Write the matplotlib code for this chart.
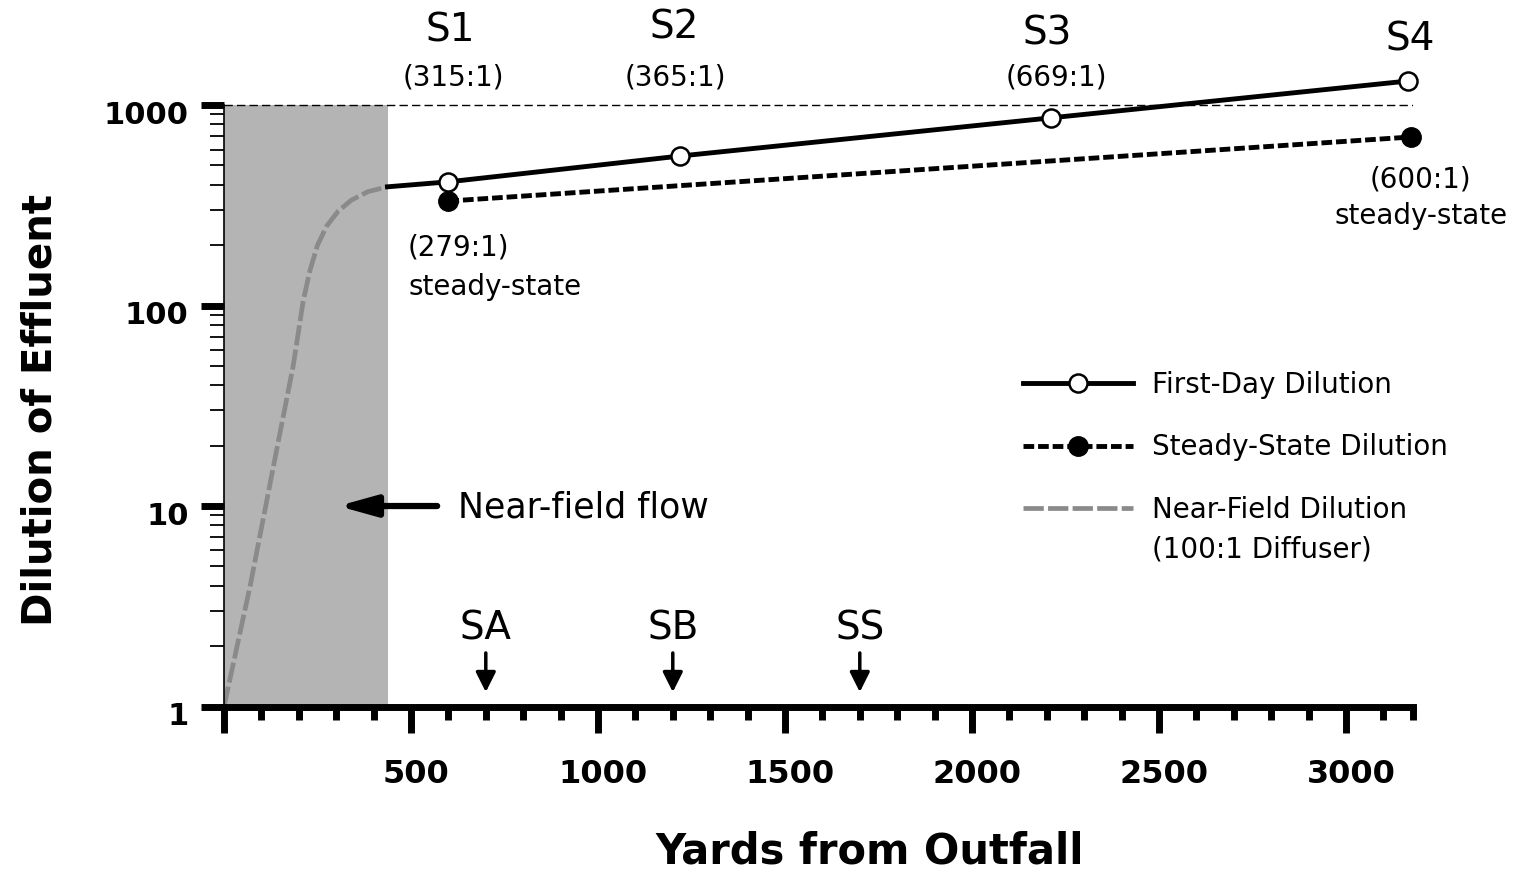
import matplotlib
matplotlib.use("Agg")

import matplotlib.pyplot as plt
import matplotlib.transforms as mtransforms
from matplotlib.ticker import FixedLocator, NullFormatter

plt.rcParams["font.family"] = ["DejaVu Sans"]

# near-field dilution curve (100:1 diffuser)
nf_x = [0, 70, 132, 185, 212, 230, 250, 275, 305, 340, 385, 437]
nf_y = [1, 4.0, 15.7, 50, 106, 150, 200, 250, 295, 335, 370, 391]
near_field_end = 438

# first-day dilution: joins the near-field curve, then stations S1..S4
fd_x = [437, 600, 1220, 2210, 3166]
fd_y = [391, 414, 557, 863, 1318]

# steady-state dilution at S1 and S4
ss_x = [600, 3174]
ss_y = [332, 693]

stations = ["S1", "S2", "S3", "S4"]
station_x = [604, 1203, 2200, 3171]
station_y = [2366, 2423, 2287, 2112]

ratio_labels = ["(315:1)", "(365:1)", "(669:1)"]
ratio_x = [612, 1208, 2225]
ratio_y = [1380, 1380, 1380]

sampling = ["SA", "SB", "SS"]
sampling_x = [700, 1200, 1700]

x_major = [0, 500, 1000, 1500, 2000, 2500, 3000]
x_major_labels = ["", "500", "1000", "1500", "2000", "2500", "3000"]
x_minor = [v for v in range(100, 3200, 100) if v % 500 != 0] + [3180]
y_major = [1, 10, 100, 1000]
y_major_labels = ["1", "10", "100", "1000"]
y_minor = [m * 10 ** d for d in range(3) for m in range(2, 10)]


fig = plt.figure(figsize=(15.18, 8.75), dpi=100)
ax = fig.add_axes([0.14756, 0.19257, 0.78347, 0.79669])
ax.set_yscale("log")
ax.set_xlim(0, 3180)
ax.set_ylim(1, 3000)

# shaded near-field zone and the 1000:1 reference line
ax.fill_between([0, near_field_end], 1, 1000, color="#b4b4b4", lw=0, zorder=0)
ax.axhline(1000, color="k", lw=1, dashes=(6, 3), zorder=1)

nf_line, = ax.plot(nf_x, nf_y, color="#8a8a8a", lw=3.4, dashes=(4.3, 0.9),
                   dash_capstyle="butt", zorder=2, label="Near-Field Dilution")
ax.plot(fd_x[:2], fd_y[:2], color="k", lw=3.5, zorder=3)
fd_line, = ax.plot(fd_x[1:], fd_y[1:], color="k", lw=3.5, marker="o", ms=13,
                   mfc="white", mec="k", mew=1.8, zorder=4, clip_on=False,
                   label="First-Day Dilution")
ss_line, = ax.plot(ss_x, ss_y, color="k", lw=3.5, dashes=(2.2, 0.8),
                   dash_capstyle="butt", marker="o", ms=14, mfc="k", mec="k",
                   zorder=4, clip_on=False, label="Steady-State Dilution")

# station labels
for name, x, y in zip(stations, station_x, station_y):
    ax.text(x, y, name, ha="center", va="center", fontsize=28)
for lab, x, y in zip(ratio_labels, ratio_x, ratio_y):
    ax.text(x, y, lab, ha="center", va="center", fontsize=20)
ax.text(492, 194, "(279:1)", ha="left", va="center", fontsize=20)
ax.text(492, 124, "steady-state", ha="left", va="center", fontsize=20)
ax.text(3200, 423, "(600:1)", ha="center", va="center", fontsize=20)
ax.text(3200, 279, "steady-state", ha="center", va="center", fontsize=20)

# sampling sites
for name, x in zip(sampling, sampling_x):
    ax.annotate("", xy=(x, 1.18), xytext=(x, 1.85),
                arrowprops=dict(arrowstyle="-|>,head_length=0.6,head_width=0.3",
                                color="k", lw=2.5, mutation_scale=20,
                                shrinkA=0, shrinkB=0))
    ax.text(x, 2.46, name, ha="center", va="center", fontsize=28)

ax.annotate("", xy=(305, 10), xytext=(570, 10),
            arrowprops=dict(arrowstyle="-|>,head_length=0.9,head_width=0.25",
                            color="k", lw=4.5, mutation_scale=25,
                            shrinkA=0, shrinkB=0))
ax.text(626, 9.8, "Near-field flow", ha="left", va="center", fontsize=25)

# legend
ax.legend([fd_line, ss_line, nf_line],
          ["First-Day Dilution", "Steady-State Dilution", "Near-Field Dilution"],
          loc="upper left", bbox_to_anchor=(0.672, 0.4813), frameon=False,
          fontsize=20, handlelength=3.95, handletextpad=0.68,
          labelspacing=1.24, borderpad=0, borderaxespad=0, numpoints=1)
ax.text(2481, 6.1, "(100:1 Diffuser)", ha="left", va="center", fontsize=20)

# axes styling
for side in ["top", "right"]:
    ax.spines[side].set_visible(False)
ax.spines["left"].set_linewidth(1.2)
ax.spines["left"].set_bounds(1, 1000)
ax.spines["bottom"].set_linewidth(5)

ax.set_xticks(x_major, x_major_labels, fontweight="bold")
ax.xaxis.set_minor_locator(FixedLocator(x_minor))
ax.set_yticks(y_major, y_major_labels, fontweight="bold")
ax.yaxis.set_minor_locator(FixedLocator(y_minor))
ax.yaxis.set_minor_formatter(NullFormatter())

ax.tick_params(axis="x", which="major", direction="out", length=19, width=5,
               pad=19, labelsize=23)
ax.tick_params(axis="x", which="minor", direction="out", length=9.5, width=5)
ax.tick_params(axis="y", which="major", direction="out", length=16.5, width=5,
               pad=9, labelsize=22)
ax.tick_params(axis="y", which="minor", direction="out", length=10, width=1.3)

y_shift = mtransforms.ScaledTranslation(0, -0.07, fig.dpi_scale_trans)
for lab in ax.get_yticklabels():
    lab.set_transform(lab.get_transform() + y_shift)
x_shift = mtransforms.ScaledTranslation(0.05, 0, fig.dpi_scale_trans)
for lab in ax.get_xticklabels():
    lab.set_transform(lab.get_transform() + x_shift)

ax.set_xlabel("Yards from Outfall", fontsize=30, fontweight="bold", va="center")
ax.xaxis.set_label_coords(0.5432, -0.2087)
ax.set_ylabel("Dilution of Effluent", fontsize=29, fontweight="bold", va="center")
ax.yaxis.set_label_coords(-0.1547, 0.4253)

fig.savefig("out.png", dpi=100)
